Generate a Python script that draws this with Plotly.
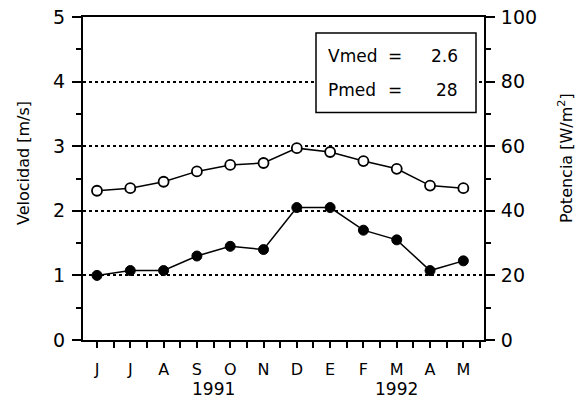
import plotly.graph_objects as go

months = ["J", "J", "A", "S", "O", "N", "D", "E", "F", "M", "A", "M"]
velocidad = [2.31, 2.35, 2.45, 2.61, 2.71, 2.74, 2.97, 2.91, 2.77, 2.65, 2.39, 2.35]
potencia = [20, 21.5, 21.5, 26, 29, 28, 41, 41, 34, 31, 21.5, 24.5]
years = ["1991", "1992"]
year_pos = [3.5, 9.0]
vmed = "2.6"
pmed = "28"

x = list(range(len(months)))
FONT = "DejaVu Sans"

W, H = 581, 403
L, R, T, B = 83, 484, 17, 340

def px(xp):
    return (xp - L) / (R - L)

def py(yp):
    return (B - yp) / (B - T)

fig = go.Figure()
fig.add_trace(go.Scatter(
    x=x, y=potencia, yaxis="y2", mode="lines+markers",
    line=dict(color="black", width=1.5),
    marker=dict(symbol="circle", size=10, color="black", line=dict(color="black", width=1)),
    showlegend=False, hoverinfo="skip"))
fig.add_trace(go.Scatter(
    x=x, y=velocidad, mode="lines+markers",
    line=dict(color="black", width=1.5),
    marker=dict(symbol="circle", size=10, color="white", line=dict(color="black", width=1.8)),
    showlegend=False, hoverinfo="skip"))

fig.update_layout(
    width=W, height=H,
    margin=dict(l=L, r=W - R, t=T, b=H - B, autoexpand=False),
    plot_bgcolor="white", paper_bgcolor="white",
    font=dict(family=FONT, color="black"),
    xaxis=dict(
        range=[-0.42, 11.62], tickmode="array", tickvals=x, ticktext=months,
        ticks="outside", ticklen=6, tickwidth=1.5, tickcolor="black",
        showline=True, linecolor="black", linewidth=2, mirror=True,
        showgrid=False, zeroline=False, automargin=False,
        ticklabelstandoff=8, ticklabeloverflow="allow",
        tickfont=dict(size=16, family=FONT),
        minor=dict(tickmode="linear", tick0=0.5, dtick=1, ticks="outside",
                   ticklen=6, tickwidth=1.5, tickcolor="black", showgrid=False),
    ),
    yaxis=dict(
        range=[0, 5], dtick=1, tick0=0,
        ticks="outside", ticklen=9, tickwidth=1.5, tickcolor="black",
        showline=True, linecolor="black", linewidth=2,
        showgrid=True, gridcolor="black", griddash="dot", gridwidth=1.5,
        zeroline=False, automargin=False,
        ticklabelstandoff=3, ticklabeloverflow="allow",
        tickfont=dict(size=19, family=FONT),
        minor=dict(dtick=0.5, ticks="outside", ticklen=5, tickwidth=1.5,
                   tickcolor="black", showgrid=False),
    ),
    yaxis2=dict(
        range=[0, 100], dtick=20, tick0=0, overlaying="y", side="right",
        ticks="outside", ticklen=9, tickwidth=1.5, tickcolor="black",
        showline=True, linecolor="black", linewidth=2,
        showgrid=False, zeroline=False, automargin=False,
        ticklabelstandoff=2, ticklabeloverflow="allow",
        tickfont=dict(size=19, family=FONT),
        minor=dict(dtick=10, ticks="outside", ticklen=5, tickwidth=1.5,
                   tickcolor="black", showgrid=False),
    ),
)

# Axis titles
fig.add_annotation(xref="paper", yref="paper", x=px(23), y=py(163),
                   text="Velocidad [m/s]", showarrow=False, textangle=-90,
                   xanchor="center", yanchor="middle", font=dict(size=16, family=FONT))
fig.add_annotation(xref="paper", yref="paper", x=px(565), y=py(158),
                   text="Potencia [W/m<sup>2</sup>]", showarrow=False, textangle=-90,
                   xanchor="center", yanchor="middle", font=dict(size=16, family=FONT))

# Legend box with means
fig.add_shape(type="rect", xref="paper", yref="paper",
              x0=px(316), x1=px(476), y0=py(112.5), y1=py(33),
              line=dict(color="black", width=1.5), fillcolor="white", layer="above")

for label, val, ypix in [("Vmed", vmed, 56), ("Pmed", pmed, 90)]:
    fig.add_annotation(xref="paper", yref="paper", x=px(326), y=py(ypix), text=label,
                       showarrow=False, xanchor="left", yanchor="middle",
                       font=dict(size=17, family=FONT))
    fig.add_annotation(xref="paper", yref="paper", x=px(395), y=py(ypix), text="=",
                       showarrow=False, xanchor="center", yanchor="middle",
                       font=dict(size=17, family=FONT))
    fig.add_annotation(xref="paper", yref="paper", x=px(460), y=py(ypix), text=val,
                       showarrow=False, xanchor="right", yanchor="middle",
                       font=dict(size=17, family=FONT))

for yr, pos in zip(years, year_pos):
    fig.add_annotation(xref="x", yref="paper", x=pos, y=py(389), text=yr,
                       showarrow=False, xanchor="center", yanchor="middle",
                       font=dict(size=17, family=FONT))

fig.write_html("out.html",
               config={"displayModeBar": False},
               post_script="document.body.style.margin='0';document.body.style.overflow='hidden';")
